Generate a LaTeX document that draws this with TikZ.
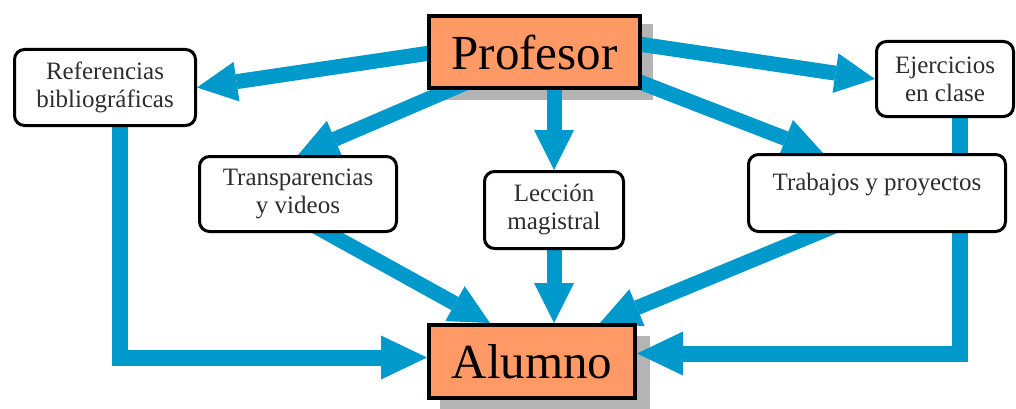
\documentclass[tikz,border=0pt]{standalone}
\usepackage{fontspec}
\setmainfont{Liberation Serif}
\usetikzlibrary{arrows.meta,calc}
\definecolor{arrowblue}{RGB}{0,153,204}
\definecolor{boxorange}{RGB}{255,153,102}
\definecolor{shadowgray}{RGB}{180,180,180}
\definecolor{txtgray}{RGB}{45,45,45}
\pgfdeclarelayer{shadl}
\pgfdeclarelayer{arrl}
\pgfsetlayers{shadl,arrl,main}
\begin{document}
\begin{tikzpicture}[x=1pt,y=1pt,
 smallbox/.style={draw=black, line width=3pt, rounded corners=10pt, fill=white, align=center, inner sep=0pt, font=\fontsize{25}{28}\selectfont, text=txtgray},
 smalltext/.style={inner sep=0pt, font=\fontsize{25}{28}\selectfont, text=txtgray},
 bigbox/.style={draw=black, line width=4pt, fill=boxorange, inner sep=0pt, font=\fontsize{49}{52}\selectfont, text=black},
 flow/.style={draw=arrowblue, line width=15pt, -{Triangle[length=40pt,width=40pt,line width=0pt]}},
 bigflow/.style={draw=arrowblue, line width=16pt, -{Triangle[length=46pt,width=44pt,line width=0pt]}}]
\useasboundingbox (0,0) rectangle (1016,408);
% boxes
\node[bigbox, minimum width=211pt, minimum height=72pt] (prof) at (534.5,356) {Profesor};
\node[bigbox, minimum width=206pt, minimum height=73pt] (alum) at (532,46.5) {Alumno};
\node[smallbox, minimum width=181pt, minimum height=76pt] (ref) at (105,320.5) {Referencias\\bibliográficas};
\node[smallbox, minimum width=137pt, minimum height=75pt] (ejer) at (945,329) {Ejercicios\\en clase};
\node[smallbox, minimum width=197pt, minimum height=75pt] (trans) at (298,214) {Transparencias\\y videos};
\node[smallbox, minimum width=139pt, minimum height=77pt] (lec) at (554,198) {Lección\\magistral};
\node[smallbox, minimum width=257pt, minimum height=77pt] (trab) at (877,215) {};
\node[smalltext, anchor=base] (trabtxt) at ([yshift=3pt]trab.center) {Trabajos y proyectos};
% shadows
\begin{pgfonlayer}{shadl}
\fill[shadowgray] ([shift={(11pt,-10pt)}]prof.south west) rectangle ([shift={(11pt,-10pt)}]prof.north east);
\fill[shadowgray] ([shift={(13pt,-13pt)}]alum.south west) rectangle ([shift={(13pt,-13pt)}]alum.north east);
\end{pgfonlayer}
% arrows
\begin{pgfonlayer}{arrl}
\draw[flow] ([xshift=10pt]prof.west) -- (ref.east);
\draw[flow] ([xshift=-10pt,yshift=9pt]prof.east) -- (ejer.west);
\draw[flow] ([xshift=-62pt,yshift=10pt]prof.south) -- (trans.north);
\draw[flow] (lec.north |- prof.south) -- (lec.north);
\draw[flow] ([xshift=100pt,yshift=10pt]prof.south) -- ([xshift=-54pt]trab.north);
\draw[bigflow] ([xshift=15pt,yshift=5pt]ref.south) |- ([yshift=4pt]alum.west);
\draw[bigflow] ([xshift=15pt,yshift=5pt]ejer.south) |- ([yshift=8pt]alum.east);
\draw[flow] ([xshift=15pt,yshift=8pt]trans.south) -- ([xshift=-42pt]alum.north);
\draw[flow] ([yshift=5pt]lec.south) -- (lec.south |- alum.north);
\draw[flow] ([xshift=-40pt,yshift=8pt]trab.south) -- ([xshift=68pt]alum.north);
\end{pgfonlayer}
\end{tikzpicture}
\end{document}
